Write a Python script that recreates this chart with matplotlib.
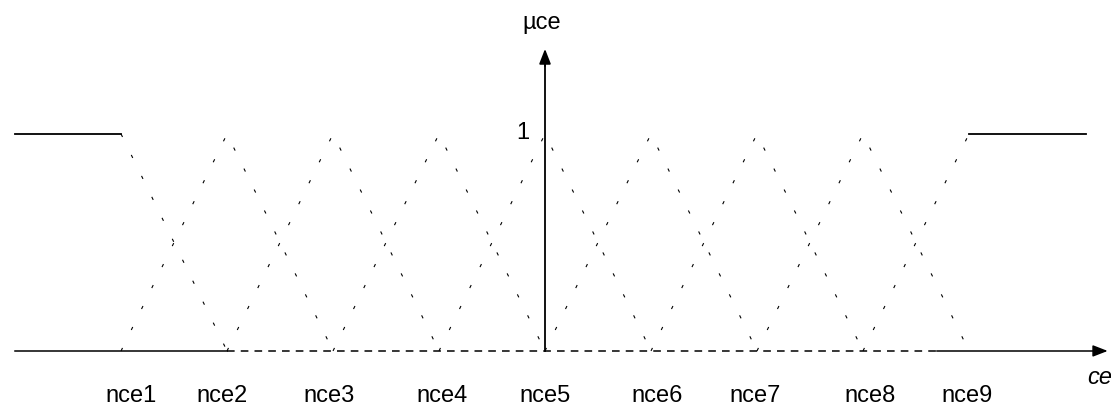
import matplotlib.pyplot as plt

# fuzzy sets on the ce axis (peak positions), left/right shoulders
labels = ["nce1", "nce2", "nce3", "nce4", "nce5", "nce6", "nce7", "nce8", "nce9"]
centers = [-4, -3, -2, -1, 0, 1, 2, 3, 4]
label_x = [-3.91, -3.05, -2.04, -0.97, 0.0, 1.06, 1.98, 3.07, 3.98]
left_end = -5.0
right_end = 5.1

plt.rcParams['font.family'] = ['Liberation Sans', 'DejaVu Sans']

fig = plt.figure(figsize=(11.11, 4.14), dpi=100)
ax = fig.add_axes([0, 0, 1, 1])
ax.set_xlim(-5.142, 5.340)
ax.set_ylim(-0.286, 1.622)
ax.axis('off')

faded = dict(color='black', lw=0.8, linestyle=(0, (3, 18)))

# shoulders
ax.plot([left_end, centers[0]], [1, 1], color='black', lw=1.3)
ax.plot([centers[0], centers[1]], [1, 0], **faded)
ax.plot([centers[-1], right_end], [1, 1], color='black', lw=1.3)
ax.plot([centers[-2], centers[-1]], [0, 1], **faded)

# triangles
for i in range(1, len(centers) - 1):
    ax.plot([centers[i - 1], centers[i], centers[i + 1]], [0, 1, 0], **faded)

# axes
ax.plot([left_end, -3.0], [0, 0], color='black', lw=1.1)
ax.plot([-3.0, 3.7], [0, 0], color='black', lw=1.1, linestyle=(0, (5, 4)))
ax.plot([3.7, 5.2], [0, 0], color='black', lw=1.1)
ax.annotate('', xy=(5.335, 0), xytext=(5.15, 0),
            arrowprops=dict(arrowstyle='-|>,head_length=0.9,head_width=0.35',
                            color='black', lw=1.1))
ax.plot([0, 0], [0, 1.33], color='black', lw=1.3)
ax.annotate('', xy=(0, 1.405), xytext=(0, 1.30),
            arrowprops=dict(arrowstyle='-|>,head_length=0.9,head_width=0.35',
                            color='black', lw=1.3))

# labels
for x, lab in zip(label_x, labels):
    ax.text(x, -0.203, lab, ha='center', va='center', fontsize=17)
ax.text(-0.212, 1.007, "1", ha='center', va='center', fontsize=17)
ax.text(-0.03, 1.518, "\u00b5ce", ha='center', va='center', fontsize=17)
ax.text(5.12, -0.118, "ce", ha='left', va='center', fontsize=17, style='italic')

fig.savefig("out.png", dpi=100)
